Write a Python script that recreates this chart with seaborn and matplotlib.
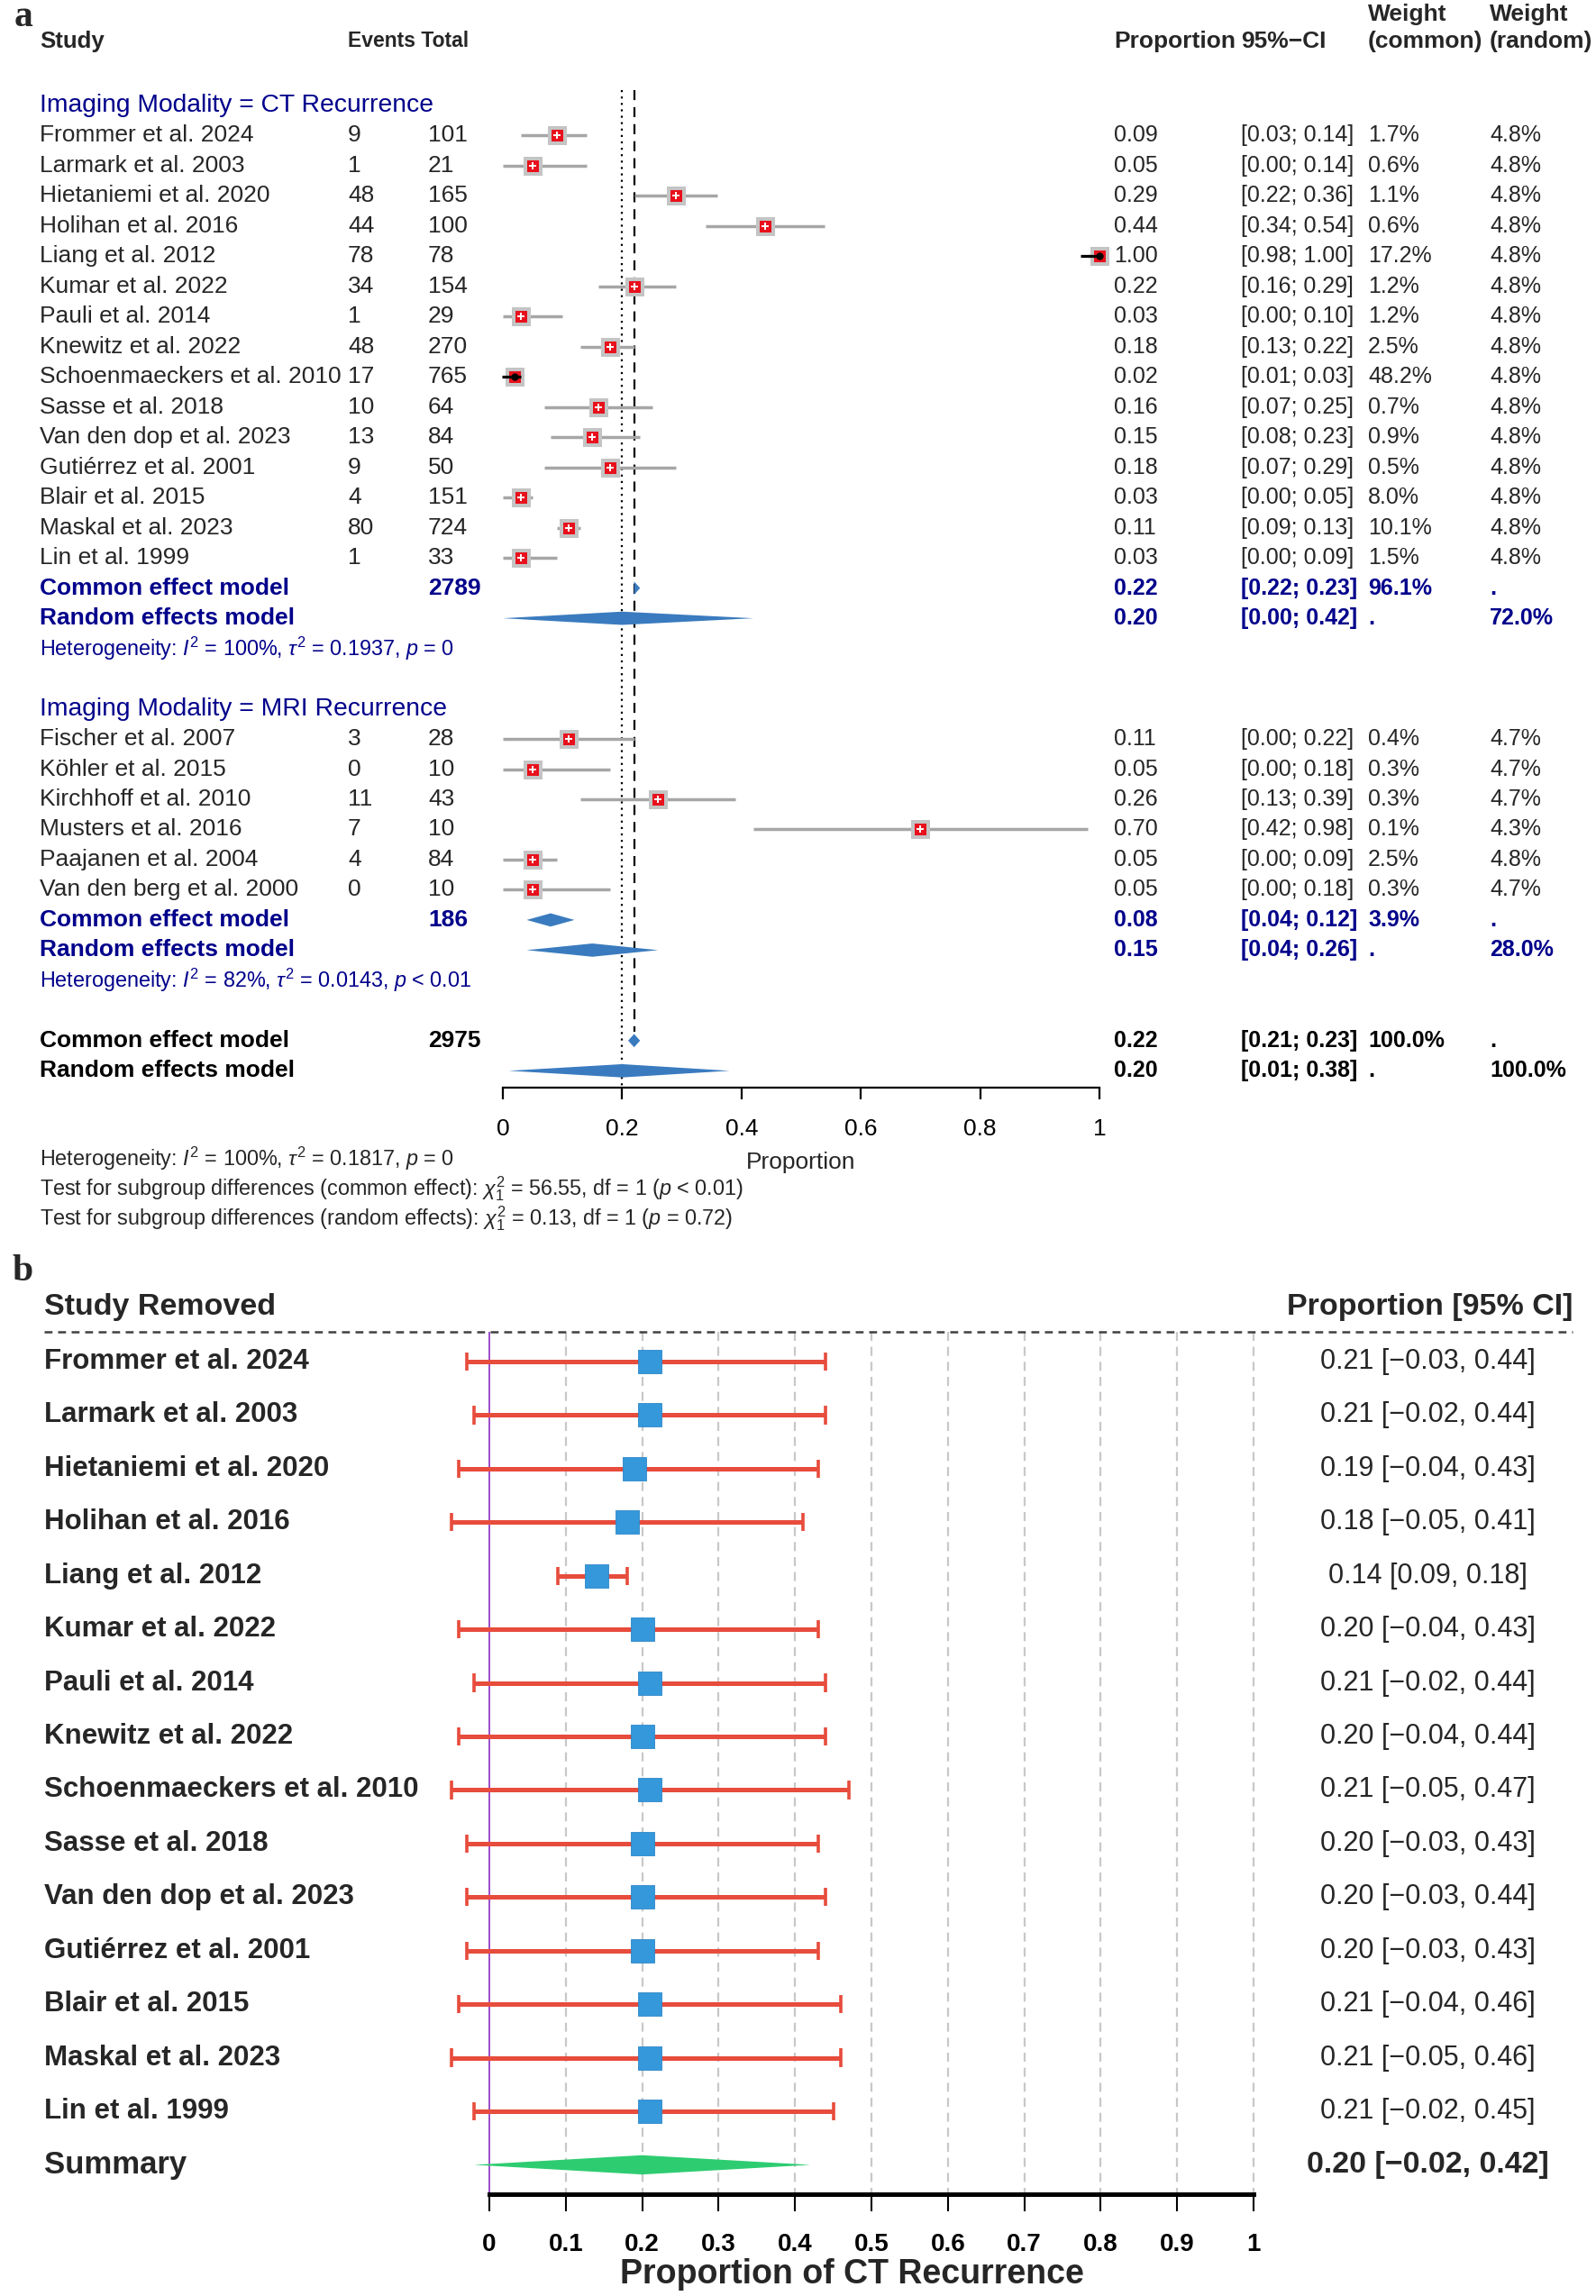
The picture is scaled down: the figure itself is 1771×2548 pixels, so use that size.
import numpy as np
import pandas as pd
import matplotlib
matplotlib.use("Agg")
import matplotlib.pyplot as plt
import seaborn as sns

# ---------------- DATA ----------------
ct_studies = ["Frommer et al. 2024", "Larmark et al. 2003", "Hietaniemi et al. 2020",
              "Holihan et al. 2016", "Liang et al. 2012", "Kumar et al. 2022",
              "Pauli et al. 2014", "Knewitz et al. 2022", "Schoenmaeckers et al. 2010",
              "Sasse et al. 2018", "Van den dop et al. 2023", "Gutiérrez et al. 2001",
              "Blair et al. 2015", "Maskal et al. 2023", "Lin et al. 1999"]
ct_events = [9, 1, 48, 44, 78, 34, 1, 48, 17, 10, 13, 9, 4, 80, 1]
ct_total = [101, 21, 165, 100, 78, 154, 29, 270, 765, 64, 84, 50, 151, 724, 33]
ct_prop = [0.09, 0.05, 0.29, 0.44, 1.00, 0.22, 0.03, 0.18, 0.02, 0.16, 0.15, 0.18, 0.03, 0.11, 0.03]
ct_lo = [0.03, 0.00, 0.22, 0.34, 0.98, 0.16, 0.00, 0.13, 0.01, 0.07, 0.08, 0.07, 0.00, 0.09, 0.00]
ct_hi = [0.14, 0.14, 0.36, 0.54, 1.00, 0.29, 0.10, 0.22, 0.03, 0.25, 0.23, 0.29, 0.05, 0.13, 0.09]
ct_w_common = ["1.7%", "0.6%", "1.1%", "0.6%", "17.2%", "1.2%", "1.2%", "2.5%", "48.2%",
               "0.7%", "0.9%", "0.5%", "8.0%", "10.1%", "1.5%"]
ct_w_random = ["4.8%"] * 15

mri_studies = ["Fischer et al. 2007", "Köhler et al. 2015", "Kirchhoff et al. 2010",
               "Musters et al. 2016", "Paajanen et al. 2004", "Van den berg et al. 2000"]
mri_events = [3, 0, 11, 7, 4, 0]
mri_total = [28, 10, 43, 10, 84, 10]
mri_prop = [0.11, 0.05, 0.26, 0.70, 0.05, 0.05]
mri_lo = [0.00, 0.00, 0.13, 0.42, 0.00, 0.00]
mri_hi = [0.22, 0.18, 0.39, 0.98, 0.09, 0.18]
mri_w_common = ["0.4%", "0.3%", "0.3%", "0.1%", "2.5%", "0.3%"]
mri_w_random = ["4.7%", "4.7%", "4.7%", "4.3%", "4.8%", "4.7%"]

# summaries: (est, lo, hi)
ct_common = (0.22, 0.22, 0.23); ct_common_total = 2789; ct_common_w = "96.1%"
ct_random = (0.20, 0.00, 0.42); ct_random_w = "72.0%"
mri_common = (0.08, 0.04, 0.12); mri_common_total = 186; mri_common_w = "3.9%"
mri_random = (0.15, 0.04, 0.26); mri_random_w = "28.0%"
all_common = (0.22, 0.21, 0.23); all_common_total = 2975; all_common_w = "100.0%"
all_random = (0.20, 0.01, 0.38); all_random_w = "100.0%"

ct_het = r"Heterogeneity: $I^2$ = 100%, $\tau^2$ = 0.1937, $p$ = 0"
mri_het = r"Heterogeneity: $I^2$ = 82%, $\tau^2$ = 0.0143, $p$ < 0.01"
all_het = r"Heterogeneity: $I^2$ = 100%, $\tau^2$ = 0.1817, $p$ = 0"
test_common = r"Test for subgroup differences (common effect): $\chi^2_1$ = 56.55, df = 1 ($p$ < 0.01)"
test_random = r"Test for subgroup differences (random effects): $\chi^2_1$ = 0.13, df = 1 ($p$ = 0.72)"

a_ticks = [0, 0.2, 0.4, 0.6, 0.8, 1]
a_ticklabels = ["0", "0.2", "0.4", "0.6", "0.8", "1"]

loo_studies = ct_studies
loo_est = [0.21, 0.21, 0.19, 0.18, 0.14, 0.20, 0.21, 0.20, 0.21, 0.20, 0.20, 0.20, 0.21, 0.21, 0.21]
loo_lo = [-0.03, -0.02, -0.04, -0.05, 0.09, -0.04, -0.02, -0.04, -0.05, -0.03, -0.03, -0.03, -0.04, -0.05, -0.02]
loo_hi = [0.44, 0.44, 0.43, 0.41, 0.18, 0.43, 0.44, 0.44, 0.47, 0.43, 0.44, 0.43, 0.46, 0.46, 0.45]
loo_summary = (0.20, -0.02, 0.42)
b_ticks = [0, 0.1, 0.2, 0.3, 0.4, 0.5, 0.6, 0.7, 0.8, 0.9, 1]
b_ticklabels = ["0", "0.1", "0.2", "0.3", "0.4", "0.5", "0.6", "0.7", "0.8", "0.9", "1"]

# ---------------- STYLE ----------------
sns.set_theme(style="white")
plt.rcParams["font.family"] = ["Liberation Sans", "DejaVu Sans"]
plt.rcParams["mathtext.fontset"] = "custom"
plt.rcParams["mathtext.rm"] = "Liberation Sans"
plt.rcParams["mathtext.it"] = "Liberation Sans:italic"
plt.rcParams["mathtext.bf"] = "Liberation Sans:bold"
NARROW = ["Liberation Sans", "DejaVu Sans"]
WIDE = ["Liberation Sans", "DejaVu Sans"]
SERIF = ["Liberation Serif", "DejaVu Serif"]
NAVY = "#00008B"

W, H = 1771, 2548
fig = plt.figure(figsize=(W / 100, H / 100), dpi=100)

# ---------------- PANEL A ----------------
A_TOP, A_BOT = 0, 1390
ax0_px, ax1_px = 558, 1220
row0_px, row_h = 50.0, 33.48
axA = fig.add_axes([0, 1 - A_BOT / H, 1, (A_BOT - A_TOP) / H])
sc = ax1_px - ax0_px
axA.set_xlim(-ax0_px / sc, (W - ax0_px) / sc)
axA.set_ylim((A_BOT - row0_px) / row_h, (A_TOP - row0_px) / row_h)


def pxa(p):
    return (p - ax0_px) / sc


def ra(p):
    return (p - row0_px) / row_h


FS_L = 19
FS_R = 18
FS_HDR = 19
FS_H = 16.8

col_study, col_ev, col_tot = pxa(44), pxa(386), pxa(475)
col_prop, col_ci, col_wc, col_wr = pxa(1236), pxa(1377), pxa(1518), pxa(1653)


def tl(x, y, s, **kw):
    kw.setdefault("family", NARROW)
    kw.setdefault("fontsize", FS_L)
    axA.text(x, y, s, ha="left", va="center", **kw)


def tr(x, y, s, **kw):
    kw.setdefault("family", WIDE)
    kw.setdefault("fontsize", FS_R)
    axA.text(x, y, s, ha="left", va="center", **kw)


# headers
tl(col_study, ra(46), "Study", weight="bold", fontsize=18.5)
tl(col_ev, ra(46), "Events Total", weight="bold", fontsize=16.5)
tr(col_prop, ra(46), "Proportion", weight="bold", fontsize=FS_HDR)
tr(col_ci, ra(46), "95%−CI", weight="bold", fontsize=FS_HDR)
tr(col_wc, ra(16), "Weight", weight="bold", fontsize=FS_HDR)
tr(col_wc, ra(46), "(common)", weight="bold", fontsize=FS_HDR)
tr(col_wr, ra(16), "Weight", weight="bold", fontsize=FS_HDR)
tr(col_wr, ra(46), "(random)", weight="bold", fontsize=FS_HDR)

ct_rows = list(range(3, 3 + len(ct_studies)))
mri_rows = list(range(23, 23 + len(mri_studies)))

df = pd.DataFrame({
    "study": ct_studies + mri_studies,
    "events": ct_events + mri_events,
    "total": ct_total + mri_total,
    "prop": ct_prop + mri_prop,
    "lo": ct_lo + mri_lo,
    "hi": ct_hi + mri_hi,
    "wc": ct_w_common + mri_w_common,
    "wr": ct_w_random + mri_w_random,
    "row": ct_rows + mri_rows,
})

tl(col_study, 2, "Imaging Modality = CT Recurrence", color=NAVY, fontsize=20.3)
tl(col_study, 22, "Imaging Modality = MRI Recurrence", color=NAVY, fontsize=20.3)

for _, d in df.iterrows():
    tl(col_study, d.row, d.study)
    tl(col_ev, d.row, str(d.events))
    tl(col_tot, d.row, str(d.total))
    tr(col_prop, d.row, f"{d.prop:.2f}")
    tr(col_ci, d.row, f"[{d.lo:.2f}; {d.hi:.2f}]")
    tr(col_wc, d.row, d.wc)
    tr(col_wr, d.row, d.wr)

SQ_PX = 21
narrow = (df["hi"] - df["lo"]) * sc < SQ_PX
axA.hlines(df["row"], df["lo"], df["hi"], color="#a6a6a6", lw=2.5, zorder=2)
sns.scatterplot(data=df, x="prop", y="row", marker="s", s=(SQ_PX * 0.72) ** 2,
                color="#c4c4c4", linewidth=0, ax=axA, zorder=3, legend=False)
sns.scatterplot(data=df, x="prop", y="row", marker="s", s=(13 * 0.72) ** 2,
                color="#e8101c", linewidth=0, ax=axA, zorder=4, legend=False)
wide_df = df[~narrow]
sns.scatterplot(data=wide_df, x="prop", y="row", marker="+", s=40,
                color="white", linewidth=1.4, ax=axA, zorder=5, legend=False)
nar_df = df[narrow]
axA.hlines(nar_df["row"], nar_df["lo"] - 0.012, nar_df["hi"], color="black", lw=2.3, zorder=6)
sns.scatterplot(data=nar_df, x="prop", y="row", marker="o", s=35,
                color="black", linewidth=0, ax=axA, zorder=6, legend=False)

DCOL = "#3a7bbf"


def diamond(ax, est, lo, hi, y, h, color):
    ax.fill([lo, est, hi, est], [y, y - h, y, y + h], color=color, lw=0, zorder=5)


DH = 0.22
summ = [
    (18, ct_common, "Common effect model", f"{ct_common_total}", ct_common_w, ".", NAVY),
    (19, ct_random, "Random effects model", "", ".", ct_random_w, NAVY),
    (29, mri_common, "Common effect model", f"{mri_common_total}", mri_common_w, ".", NAVY),
    (30, mri_random, "Random effects model", "", ".", mri_random_w, NAVY),
    (33, all_common, "Common effect model", f"{all_common_total}", all_common_w, ".", "black"),
    (34, all_random, "Random effects model", "", ".", all_random_w, "black"),
]
for r, (e, lo, hi), lab, tot, wc, wr, colr in summ:
    tl(col_study, r, lab, weight="bold", color=colr)
    if tot:
        tl(col_tot, r, tot, weight="bold", color=colr)
    tr(col_prop, r, f"{e:.2f}", weight="bold", color=colr)
    tr(col_ci, r, f"[{lo:.2f}; {hi:.2f}]", weight="bold", color=colr)
    tr(col_wc, r, wc, weight="bold", color=colr)
    tr(col_wr, r, wr, weight="bold", color=colr)
    diamond(axA, e, lo, hi, r, DH, DCOL)

tl(col_study, 20, ct_het, color=NAVY, fontsize=FS_H)
tl(col_study, 31, mri_het, color=NAVY, fontsize=FS_H)
tl(col_study, 36.9, all_het, fontsize=FS_H)
tl(col_study, 37.9, test_common, fontsize=FS_H)
tl(col_study, 38.9, test_random, fontsize=FS_H)

# reference lines
axA.vlines(all_random[0], 1.5, 34.55, color="black", lw=1.6, ls=(0, (1, 2.2)), zorder=1)
axA.vlines(all_common[0], 1.5, 32.7, color="black", lw=1.6, ls=(0, (5, 3.5)), zorder=1)

# axis
for s in ["top", "left", "right"]:
    axA.spines[s].set_visible(False)
axA.spines["bottom"].set_position(("data", 34.55))
axA.spines["bottom"].set_bounds(0, 1)
axA.spines["bottom"].set_linewidth(1.6)
axA.spines["bottom"].set_color("black")
axA.set_xticks(a_ticks)
axA.set_xticklabels(a_ticklabels, family=NARROW, fontsize=FS_L)
axA.tick_params(axis="x", bottom=True, direction="out", length=9.5, width=1.6,
                pad=15, colors="black")
axA.set_yticks([])
axA.set_xlabel("")
axA.set_ylabel("")
tl(0.5, 37.05, "Proportion")
axA.texts[-1].set_ha("center")

# ---------------- PANEL B ----------------
B_TOP, B_BOT = 1390, H
bx0, bx1 = 543, 1391
brow0, brow_h = 1511, 59.43
bsc = bx1 - bx0
axB = fig.add_axes([0, 0, 1, (B_BOT - B_TOP) / H])
axB.set_xlim(-bx0 / bsc, (W - bx0) / bsc)
axB.set_ylim((B_BOT - brow0) / brow_h, (B_TOP - brow0) / brow_h)


def pxb(p):
    return (p - bx0) / bsc


def rb(p):
    return (p - brow0) / brow_h


FSB_L = 22.5
FSB_R = 22

dfb = pd.DataFrame({"study": loo_studies, "est": loo_est, "lo": loo_lo, "hi": loo_hi,
                    "row": list(range(len(loo_studies)))})
sum_row = len(loo_studies)
y_head, y_axis = rb(1478), rb(2435)

axB.text(pxb(49), rb(1450), "Study Removed", family=NARROW, weight="bold",
         fontsize=24.5, ha="left", va="center")
axB.text(pxb(1745), rb(1450), "Proportion [95% CI]", family=WIDE, weight="bold",
         fontsize=24.5, ha="right", va="center")
axB.hlines(y_head, pxb(49), pxb(1745), color="#404040", lw=1.8, ls=(0, (3.5, 2.5)), zorder=1)

axB.vlines([t for t in b_ticks if t > 0], y_head, y_axis, color="#c8c8c8", lw=1.6,
           ls=(0, (4.5, 3)), zorder=0)
axB.vlines(0, y_head, y_axis, color="#9b4dca", lw=1.4, zorder=1)

RED = "#e74c3c"
axB.hlines(dfb["row"], dfb["lo"], dfb["hi"], color=RED, lw=3.6, zorder=2)
axB.vlines(dfb["lo"], dfb["row"] - 0.17, dfb["row"] + 0.17, color=RED, lw=2.6, zorder=2)
axB.vlines(dfb["hi"], dfb["row"] - 0.17, dfb["row"] + 0.17, color=RED, lw=2.6, zorder=2)
sns.scatterplot(data=dfb, x="est", y="row", marker="s", s=(26 * 0.72) ** 2,
                color="#3498db", edgecolor="#2e86c8", linewidth=0.6, ax=axB, zorder=4,
                legend=False)
se, slo, shi = loo_summary
axB.fill([slo, se, shi, se], [sum_row, sum_row - 0.18, sum_row, sum_row + 0.18],
         color="#2ecc71", lw=0, zorder=3)

for _, d in dfb.iterrows():
    axB.text(pxb(49), d.row, d.study, family=NARROW, weight="bold", fontsize=FSB_L,
             ha="left", va="center")
    lo_s = f"{d.lo:.2f}".replace("-", "−")
    hi_s = f"{d.hi:.2f}".replace("-", "−")
    axB.text(pxb(1584), d.row, f"{d.est:.2f} [{lo_s}, {hi_s}]", family=WIDE,
             fontsize=FSB_R, ha="center", va="center")
axB.text(pxb(49), sum_row, "Summary", family=NARROW, weight="bold", fontsize=25,
         ha="left", va="center")
axB.text(pxb(1584), sum_row,
         f"{se:.2f} [{f'{slo:.2f}'.replace('-', '−')}, {shi:.2f}]", family=WIDE,
         weight="bold", fontsize=24.5, ha="center", va="center")

for s in ["top", "left", "right"]:
    axB.spines[s].set_visible(False)
axB.spines["bottom"].set_position(("data", y_axis))
axB.spines["bottom"].set_bounds(0, 1)
axB.spines["bottom"].set_linewidth(3.6)
axB.spines["bottom"].set_color("black")
axB.set_xticks(b_ticks)
axB.set_xticklabels(b_ticklabels, family=NARROW, weight="bold", fontsize=20)
axB.tick_params(axis="x", bottom=True, direction="out", length=14, width=1.5,
                pad=17, colors="black")
axB.set_yticks([])
axB.set_xlabel("")
axB.set_ylabel("")
axB.text(0.475, rb(2524), "Proportion of CT Recurrence", family=NARROW, weight="bold",
         fontsize=27, ha="center", va="center")

# panel letters
fig.text(16 / W, 1 - 19 / H, "a", family=SERIF, weight="bold", fontsize=30,
         ha="left", va="center")
fig.text(13 / W, 1 - 1411 / H, "b", family=SERIF, weight="bold", fontsize=30,
         ha="left", va="center")

fig.savefig("out.png", dpi=100, facecolor="white")
